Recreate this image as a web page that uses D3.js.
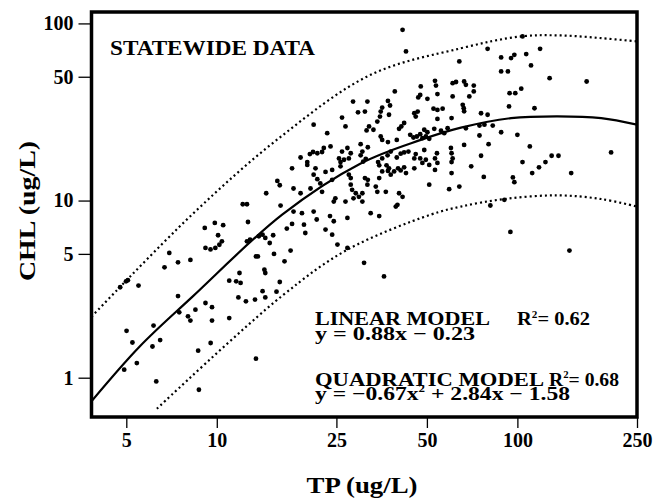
<!DOCTYPE html>
<html>
<head>
<meta charset="utf-8">
<script src="https://cdn.jsdelivr.net/npm/d3@7"></script>
<style>
  body { margin: 0; background: #fff; }
</style>
</head>
<body>
<svg id="chart" width="658" height="501"></svg>
<script>
// axis ticks
const tpTicks = [5, 10, 25, 50, 100, 250];
const chlTicks = [1, 5, 10, 50, 100];

// statewide lakes, [TP, CHL] in ug/L
const lakes = [
  [15.9, 12.9], [16.2, 12.2], [14.6, 11.0], [12.2, 9.53], [12.6, 9.53], [16.3, 9.37],
  [4.77, 3.24], [4.99, 3.50], [5.06, 3.55], [5.49, 3.31], [5.01, 1.84], [5.24, 1.58],
  [4.92, 1.11], [5.42, 1.21], [6.16, 1.97], [6.11, 1.50], [6.48, 1.63], [6.29, 0.953],
  [6.70, 4.20], [6.95, 5.06], [7.43, 4.48], [8.17, 4.62], [7.43, 2.89], [7.50, 2.34],
  [8.02, 2.22], [8.17, 2.10], [8.49, 2.42], [8.67, 1.42], [8.72, 0.855], [9.12, 7.01],
  [9.85, 7.48], [10.5, 7.26], [10.1, 6.37], [9.17, 5.40], [9.53, 5.30], [9.89, 5.40],
  [10.2, 5.63], [10.4, 5.89], [9.17, 2.64], [9.64, 2.50], [9.64, 2.10], [9.54, 1.57],
  [11.0, 3.53], [11.6, 3.50], [12.0, 3.43], [11.9, 3.90], [11.0, 2.17], [11.8, 2.84],
  [12.5, 2.70], [13.4, 2.76], [13.5, 1.28], [12.7, 7.57], [12.6, 5.89], [12.9, 6.02],
  [13.8, 6.29], [14.2, 6.42], [14.5, 6.15], [13.5, 4.84], [13.7, 4.84], [15.0, 5.76],
  [15.4, 6.37], [15.5, 5.00], [14.4, 4.07], [14.5, 3.90], [14.2, 3.08], [14.5, 2.84],
  [15.8, 3.06], [16.2, 3.47],
  [17.1, 6.95], [17.8, 7.38], [19.5, 7.31], [19.7, 6.56], [21.5, 7.82], [23.0, 6.86],
  [23.8, 8.17], [24.5, 7.64], [24.2, 6.42], [27.2, 7.98], [25.2, 5.64], [27.2, 5.40],
  [17.6, 5.22], [16.8, 4.54], [30.9, 4.45], [36.0, 3.73], [34.7, 8.17],
  [94.8, 6.65], [149, 5.22],
  [104, 84.4], [79.6, 71.9], [88.3, 64.3], [95.3, 63.7], [97.7, 66.5], [107, 67.1],
  [119, 71.9], [111, 57.9], [88.3, 53.6], [93.0, 53.6], [66.5, 47.0], [67.4, 45.0],
  [71.6, 44.6], [71.6, 41.3], [69.2, 38.7], [94.2, 40.4], [98.4, 40.4], [103, 42.8],
  [128, 49.1], [170, 47.0], [65.8, 34.7], [66.3, 33.2], [66.5, 31.9], [75.7, 31.1],
  [79.6, 30.5], [93.8, 34.0], [114, 33.2], [67.4, 25.6], [74.8, 26.5], [77.7, 26.8],
  [82.8, 26.5], [74.8, 23.3], [88.3, 24.3], [100, 23.5], [66.5, 20.6], [80.2, 20.8],
  [110, 20.2], [75.7, 17.9], [70.2, 15.6], [104, 16.5], [130, 17.9], [137, 17.9],
  [124, 16.5], [118, 15.4], [112, 14.3], [151, 14.3], [205, 18.7], [77.3, 13.6],
  [96.6, 13.5], [97.7, 12.7], [81.3, 9.38], [90.5, 10.1],
  [41.5, 92.0], [42.6, 69.5], [21.0, 26.8], [23.3, 24.0], [26.1, 29.4], [26.8, 26.2],
  [28.4, 36.2], [31.7, 36.2], [29.5, 31.5], [31.1, 31.8], [30.1, 20.8], [32.1, 26.2],
  [31.5, 24.9], [34.2, 27.9], [34.9, 29.8], [35.1, 31.8], [35.5, 33.5], [37.1, 36.5],
  [37.7, 34.4], [37.4, 30.5], [39.1, 41.3], [33.2, 25.1], [35.1, 23.0], [35.5, 22.0],
  [37.1, 21.4], [39.7, 22.0], [42.0, 27.4], [41.1, 26.2], [40.4, 25.4], [45.9, 29.8],
  [45.4, 31.1], [46.6, 31.8], [47.5, 39.5], [46.8, 38.2], [47.7, 44.1], [50.2, 37.5],
  [53.2, 47.4], [53.6, 44.6], [54.2, 39.9], [60.9, 46.0], [62.5, 46.7], [60.9, 38.7],
  [64.1, 61.0], [52.6, 33.0], [54.2, 32.5], [56.4, 33.0], [54.2, 28.9], [60.4, 29.2],
  [49.0, 25.1], [50.2, 24.3], [49.6, 23.0], [50.9, 22.3], [48.3, 22.5], [47.5, 23.7],
  [46.3, 23.0], [45.1, 22.7], [44.0, 23.5], [52.9, 25.4], [55.7, 24.8], [58.6, 25.6],
  [57.1, 24.0], [49.0, 19.3], [60.1, 19.8], [60.4, 18.5], [60.9, 17.3], [60.4, 16.5],
  [54.0, 18.5], [53.2, 17.3], [54.2, 16.3], [49.6, 17.0], [50.9, 15.9], [48.3, 16.3],
  [47.5, 17.3], [45.4, 17.3], [45.9, 18.3], [43.4, 18.9], [42.0, 18.7], [40.9, 18.4],
  [39.7, 17.5], [37.9, 18.9], [37.0, 18.0], [35.5, 17.3], [34.4, 16.5], [31.8, 20.0],
  [30.5, 18.9], [30.1, 18.0], [30.7, 16.6], [31.3, 17.2], [27.2, 19.8], [26.1, 18.9],
  [26.5, 17.0], [25.8, 16.5], [25.5, 17.3], [27.9, 18.5], [27.5, 17.3], [22.7, 19.8],
  [22.4, 18.8], [21.6, 18.5], [20.9, 18.8], [20.4, 18.3], [20.0, 16.5], [19.0, 17.5],
  [23.9, 20.2], [17.8, 15.2], [21.3, 15.2], [20.0, 15.9], [24.2, 14.9], [23.0, 14.5],
  [25.8, 15.6], [27.5, 14.0], [27.9, 13.4], [21.0, 14.0], [21.6, 13.2], [22.1, 12.5],
  [24.2, 13.1], [27.9, 12.3], [31.1, 13.4], [31.8, 13.1], [34.7, 15.8], [35.5, 14.6],
  [34.7, 13.4], [36.7, 15.8], [37.1, 14.7], [37.9, 14.0], [37.4, 15.2], [38.9, 14.6],
  [40.1, 15.2], [40.9, 14.8], [42.6, 14.3], [42.0, 15.4], [45.4, 15.2], [53.2, 14.9],
  [50.9, 12.3], [59.3, 11.6], [60.4, 14.3], [64.1, 12.0], [18.0, 11.7], [19.0, 11.0],
  [20.5, 11.7], [22.4, 11.2], [28.2, 11.5], [29.0, 11.0], [29.7, 10.5], [30.5, 9.87],
  [28.5, 10.3], [30.5, 11.0], [24.5, 9.87], [24.8, 10.3], [26.8, 9.87], [31.7, 12.3],
  [33.8, 12.0], [34.2, 11.2], [36.5, 11.2], [40.4, 11.0], [41.5, 10.5], [39.9, 9.46],
  [39.4, 9.25], [18.0, 8.67], [19.2, 8.49], [21.0, 8.67], [32.5, 8.49]
];

// quadratic model curve
const fitTP = [3.83, 5.54, 8.27, 16.5, 30.1, 47.7, 64.9, 95.3, 136, 190, 250];
const fitCHL = [0.736, 1.50, 2.85, 8.33, 16.2, 22.0, 25.8, 29.2, 29.9, 29.2, 26.8];

// prediction band, upper and lower
const upperTP = [3.83, 8.27, 16.1, 32.5, 64.9, 103, 140, 190, 250];
const upperCHL = [2.21, 8.33, 22.5, 51.3, 72.4, 84.5, 85.5, 82.6, 79.1];
const lowerTP = [6.32, 16.5, 27.2, 51.5, 64.9, 90.4, 136, 190, 250];
const lowerCHL = [0.668, 2.90, 5.28, 8.33, 9.25, 10.2, 10.7, 10.2, 9.25];

const serif = "'Liberation Serif', 'Times New Roman', serif";

const svg = d3.select("#chart");
const margin = { top: 12, right: 21, bottom: 84, left: 91.5 };
const width = +svg.attr("width") - margin.left - margin.right;
const height = +svg.attr("height") - margin.top - margin.bottom;

svg.append("rect").attr("width", 658).attr("height", 501).attr("fill", "#fff");

const g = svg
  .append("g")
  .attr("transform", `translate(${margin.left}, ${margin.top})`);

const x = d3.scaleLog().domain([3.83, 250]).range([0, width]);
const y = d3.scaleLog().domain([0.6, 116]).range([height, 0]);

g.append("clipPath")
  .attr("id", "plot-clip")
  .append("rect")
  .attr("width", width)
  .attr("height", height);

const plot = g.append("g").attr("clip-path", "url(#plot-clip)");

// scatter
plot
  .selectAll("circle.lake")
  .data(lakes)
  .enter()
  .append("circle")
  .attr("class", "lake")
  .attr("cx", d => x(d[0]))
  .attr("cy", d => y(d[1]))
  .attr("r", 2.4)
  .attr("fill", "#000");

const line = d3
  .line()
  .x(d => x(d[0]))
  .y(d => y(d[1]))
  .curve(d3.curveCatmullRom.alpha(0.5));

const zipped = (a, b) => a.map((v, i) => [v, b[i]]);

plot
  .append("path")
  .attr("d", line(zipped(fitTP, fitCHL)))
  .attr("fill", "none")
  .attr("stroke", "#000")
  .attr("stroke-width", 2.2);

[zipped(upperTP, upperCHL), zipped(lowerTP, lowerCHL)].forEach(band => {
  plot
    .append("path")
    .attr("d", line(band))
    .attr("fill", "none")
    .attr("stroke", "#000")
    .attr("stroke-width", 2.2)
    .attr("stroke-dasharray", "2,3");
});

// frame
g.append("rect")
  .attr("width", width)
  .attr("height", height)
  .attr("fill", "none")
  .attr("stroke", "#000")
  .attr("stroke-width", 3.5);

function styleAxis(s) {
  s.select(".domain").remove();
  s.selectAll(".tick line").attr("stroke", "#000").attr("stroke-width", 1.3);
  s.selectAll(".tick text")
    .attr("fill", "#000")
    .attr("font-family", serif)
    .attr("font-weight", "bold")
    .attr("font-size", 20);
}

g.append("g")
  .attr("transform", `translate(0, ${height})`)
  .call(d3.axisBottom(x).tickValues(tpTicks).tickFormat(d3.format("d")).tickSize(11).tickPadding(5))
  .call(styleAxis);

g.append("g")
  .call(d3.axisLeft(y).tickValues(chlTicks).tickFormat(d3.format("d")).tickSize(13).tickPadding(5))
  .call(styleAxis);

// axis titles
svg.append("text")
  .attr("x", 362)
  .attr("y", 493)
  .attr("text-anchor", "middle")
  .attr("font-family", serif)
  .attr("font-weight", "bold")
  .attr("font-size", 23)
  .attr("textLength", 111)
  .attr("lengthAdjust", "spacingAndGlyphs")
  .text("TP (ug/L)");

svg.append("text")
  .attr("transform", "translate(35, 211) rotate(-90)")
  .attr("text-anchor", "middle")
  .attr("font-family", serif)
  .attr("font-weight", "bold")
  .attr("font-size", 23)
  .attr("textLength", 140)
  .attr("lengthAdjust", "spacingAndGlyphs")
  .text("CHL (ug/L)");

// annotations
function label(px, py, size, len, parts) {
  const t = svg.append("text")
    .attr("x", px)
    .attr("y", py)
    .attr("font-family", serif)
    .attr("font-weight", "bold")
    .attr("font-size", size)
    .attr("textLength", len)
    .attr("lengthAdjust", "spacingAndGlyphs");
  parts.forEach(p => {
    if (typeof p === "string") {
      t.append("tspan").text(p);
    } else {
      t.append("tspan").attr("font-size", size * 0.55).attr("dy", -size * 0.38).text(p.sup);
      t.append("tspan").attr("dy", size * 0.38).text(p.after);
    }
  });
}

label(110, 55.3, 22, 205, ["STATEWIDE DATA"]);
label(315, 325, 19, 175, ["LINEAR MODEL"]);
label(517, 325, 19, 73, ["R", { sup: "2", after: "= 0.62" }]);
label(315, 339.5, 19, 160, ["y = 0.88x \u2212 0.23"]);
label(315, 385.5, 19, 229, ["QUADRATIC MODEL"]);
label(549, 385.5, 19, 70, ["R", { sup: "2", after: "= 0.68" }]);
label(315, 399.5, 19, 255, ["y = \u22120.67x", { sup: "2", after: " + 2.84x \u2212 1.58" }]);
</script>
</body>
</html>
